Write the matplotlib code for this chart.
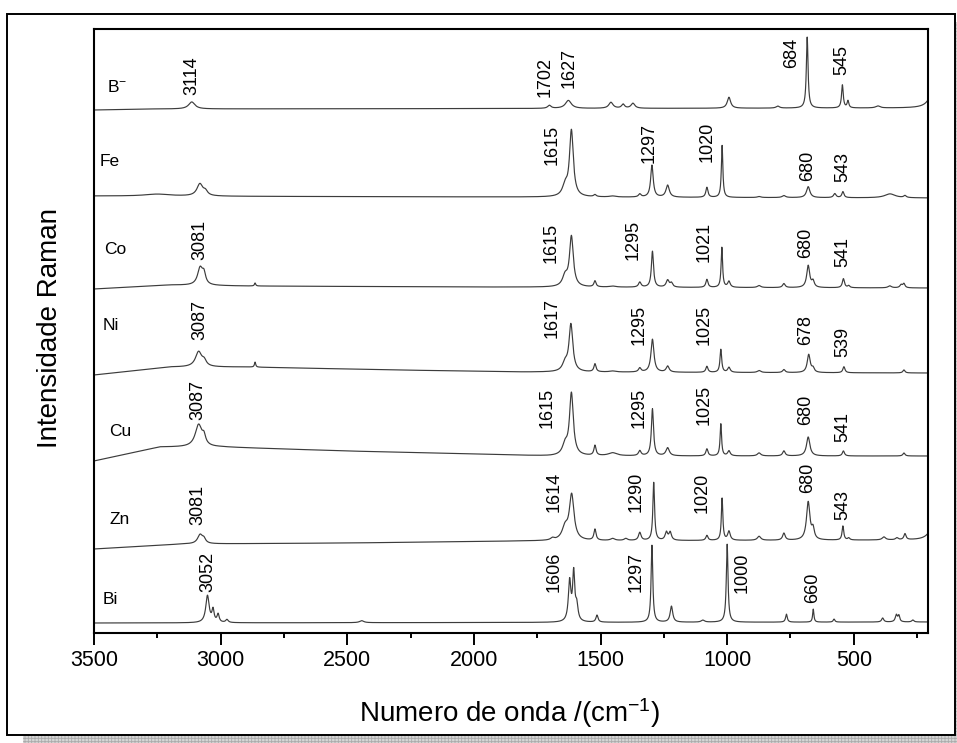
import numpy as np
import matplotlib
matplotlib.use("Agg")
import matplotlib.pyplot as plt
from matplotlib.patches import Rectangle

plt.rcParams['font.family'] = ['Liberation Sans', 'DejaVu Sans']
plt.rcParams['mathtext.fontset'] = 'custom'
plt.rcParams['mathtext.rm'] = 'Liberation Sans'
plt.rcParams['mathtext.it'] = 'Liberation Sans:italic'
plt.rcParams['mathtext.bf'] = 'Liberation Sans:bold'
plt.rcParams['hatch.linewidth'] = 0.6

# ---------------------------------------------------------------- data
samples = ["B$^{-}$", "Fe", "Co", "Ni", "Cu", "Zn", "Bi"]

# Raman bands: (wavenumber cm-1, intensity a.u., half width cm-1)
peaks_b = [(3114, 7, 15), (1702, 3, 8), (1627, 8, 14), (1459, 6, 10),
           (1411, 4, 7), (1372, 5, 9), (993, 11, 8), (800, 2, 8),
           (684, 71, 4), (545, 23, 4), (523, 7, 4), (405, 2, 10),
           (185, 18, 20)]
peaks_fe = [(3250, 2, 60), (3082, 12, 14), (3060, 4, 10), (1640, 10, 12),
            (1615, 66, 9), (1522, 2, 6), (1452, 1, 15), (1345, 3, 6),
            (1297, 32, 6), (1235, 12, 8), (1080, 10, 5), (1020, 52, 3.5),
            (874, 1, 8), (776, 2, 8), (680, 11, 8), (575, 4, 6),
            (543, 6, 5), (357, 4, 25), (298, 2, 6)]
peaks_co = [(3081, 17, 12), (3066, 10, 8), (2864, 3, 3), (1640, 10, 12),
            (1615, 50, 9), (1522, 6, 5), (1452, 1, 15), (1345, 5, 6),
            (1295, 36, 5), (1235, 7, 7), (1220, 4, 6), (1080, 8, 5),
            (1021, 40, 3.5), (993, 6, 6), (874, 2, 8), (776, 4, 6),
            (680, 22, 7), (661, 6, 6), (541, 9, 5), (520, 2, 5),
            (358, 2, 8), (313, 3, 6), (302, 4, 5)]
peaks_ni = [(3087, 15, 15), (3065, 5, 10), (2864, 5, 3), (1640, 8, 12),
            (1617, 47, 9), (1522, 8, 5), (1452, 1, 15), (1345, 4, 6),
            (1295, 33, 7), (1235, 6, 7), (1080, 6, 5), (1025, 23, 4),
            (993, 5, 6), (874, 2, 8), (776, 3, 6), (678, 18, 7),
            (661, 4, 6), (539, 6, 5), (302, 3, 5)]
peaks_cu = [(3087, 22, 16), (3066, 8, 8), (1640, 10, 12), (1615, 62, 9),
            (1522, 10, 5), (1452, 3, 20), (1345, 5, 6), (1295, 47, 5),
            (1235, 8, 8), (1080, 7, 5), (1025, 32, 3.5), (993, 5, 6),
            (874, 3, 8), (776, 5, 6), (680, 19, 8), (541, 5, 5),
            (302, 3, 5)]
peaks_zn = [(3081, 9, 12), (3066, 4, 8), (1690, 2, 8), (1640, 12, 14),
            (1614, 45, 11), (1522, 11, 5), (1452, 2, 10), (1400, 2, 8),
            (1345, 8, 6), (1290, 58, 4), (1240, 8, 6), (1225, 8, 6),
            (1080, 5, 5), (1020, 42, 3.5), (993, 9, 6), (874, 4, 8),
            (776, 7, 6), (680, 38, 8), (661, 10, 6), (543, 14, 4),
            (520, 2, 5), (381, 3, 8), (330, 2, 6), (298, 6, 5),
            (185, 15, 20)]
peaks_bi = [(3052, 27, 8), (3030, 12, 5), (3010, 8, 5), (2975, 3, 6),
            (2443, 2, 10), (1622, 40, 6), (1606, 47, 5), (1594, 15, 6),
            (1514, 7, 5), (1297, 77, 4), (1220, 16, 6), (1096, 2, 8),
            (1000, 78, 4), (766, 8, 4), (660, 13, 3), (578, 3, 4),
            (386, 4, 5), (332, 7, 5), (322, 6, 4), (267, 2, 5)]

# background level of each spectrum: (wavenumber, intensity)
base_b = [(3500, -2), (3300, -1), (200, 0)]
base_fe = [(3500, 1), (200, -1)]
base_co = [(3500, -1), (3200, 3), (2900, 2), (2000, 1), (200, 0)]
base_ni = [(3500, -2), (3200, 6), (2900, 6), (2300, 3), (1800, 1), (200, 0)]
base_cu = [(3500, -5), (3240, 9), (3000, 9), (2500, 5), (2000, 2),
           (1700, 0), (200, 0)]
base_zn = [(3500, -9), (3150, -4), (2500, -3), (1800, -1), (200, 0)]
base_bi = [(3500, -1), (200, 0)]

# annotated band positions
labels_b = [3114, 1702, 1627, 684, 545]
labels_fe = [1615, 1297, 1020, 680, 543]
labels_co = [3081, 1615, 1295, 1021, 680, 541]
labels_ni = [3087, 1617, 1295, 1025, 678, 539]
labels_cu = [3087, 1615, 1295, 1025, 680, 541]
labels_zn = [3081, 1614, 1290, 1020, 680, 543]
labels_bi = [3052, 1606, 1297, 1000, 660]

x_ticks = [3500, 3000, 2500, 2000, 1500, 1000, 500]

# ---------------------------------------------------------------- layout
offsets = [525, 436, 345, 260, 177, 93, 11]
# where each band label sits: (x in cm-1, bottom of text)
label_pos = [
    [(3113, 538), (1720, 536), (1625, 545), (744, 565), (547, 558)],
    [(1690, 468), (1309, 470), (1078, 471), (683, 452), (545, 451)],
    [(3081, 373), (1696, 370), (1372, 373), (1092, 371), (691, 375), (545, 366)],
    [(3081, 293), (1690, 295), (1348, 288), (1092, 288), (691, 288), (545, 276)],
    [(3089, 213), (1710, 205), (1348, 205), (1092, 208), (691, 208), (545, 191)],
    [(3089, 108), (1684, 121), (1360, 121), (1098, 120), (683, 140), (545, 113)],
    [(3050, 41), (1684, 41), (1360, 41), (940, 40), (664, 30)],
]
name_pos = [(3449, 546), (3476, 471), (3460, 383), (3464, 307),
            (3441, 201), (3437, 113), (3464, 34)]

all_peaks = [peaks_b, peaks_fe, peaks_co, peaks_ni, peaks_cu, peaks_zn, peaks_bi]
all_bases = [base_b, base_fe, base_co, base_ni, base_cu, base_zn, base_bi]
all_labels = [labels_b, labels_fe, labels_co, labels_ni, labels_cu,
              labels_zn, labels_bi]

wn = np.linspace(3500, 200, 6601)


def spectrum(peaks, base):
    bx = np.array([p[0] for p in base][::-1], dtype=float)
    by = np.array([p[1] for p in base][::-1], dtype=float)
    y = np.interp(wn, bx, by)
    for pos, h, g in peaks:
        y = y + h * g ** 2 / ((wn - pos) ** 2 + g ** 2)
    return y


W, H = 957, 743
fig = plt.figure(figsize=(W / 100, H / 100), dpi=100, facecolor='white')

# framed panel with drop shadow
shadow = Rectangle((23 / W, -0.05), 948 / W, (H - 22) / H + 0.05,
                   transform=fig.transFigure, facecolor='#d6d6d6',
                   edgecolor='#ababab', hatch='+++++', linewidth=0,
                   zorder=-3)
frame = Rectangle((7 / W, 8 / H), 948 / W, 721 / H,
                  transform=fig.transFigure, facecolor='white',
                  edgecolor='black', linewidth=1.4, zorder=-2)
fig.add_artist(shadow)
fig.add_artist(frame)

ax = fig.add_axes([94 / W, (H - 633) / H, 834 / W, 604 / H])
ax.set_facecolor('none')

for i in range(len(samples)):
    y = spectrum(all_peaks[i], all_bases[i]) + offsets[i]
    ax.plot(wn, y, color='#3c3c3c', lw=0.85)
    for val, (lx, ly) in zip(all_labels[i], label_pos[i]):
        ax.text(lx, ly, str(val), rotation=90, ha='center', va='bottom',
                fontsize=13, color='black')
    nx, ny = name_pos[i]
    ax.text(nx, ny, samples[i], ha='left', va='center', fontsize=12.5)

ax.set_xlim(3500, 207)
ax.set_ylim(0, 604)
ax.set_yticks([])
ax.set_xticks(x_ticks)
ax.set_xticks([3250, 2750, 2250, 1750, 1250, 750, 250], minor=True)
ax.tick_params(axis='x', which='major', direction='out', length=8.6,
               width=1.4, labelsize=15.5, pad=3.5)
ax.tick_params(axis='x', which='minor', direction='out', length=3.6,
               width=1.4)
for s in ax.spines.values():
    s.set_linewidth(1.5)

fig.text(50 / W, (H - 328) / H, "Intensidade Raman", rotation=90,
         ha='center', va='center', fontsize=20)
fig.text(510 / W, (H - 722) / H, "Numero de onda /(cm$^{-1}$)",
         ha='center', va='baseline', fontsize=20)

fig.savefig("out.png", dpi=100, facecolor='white')
